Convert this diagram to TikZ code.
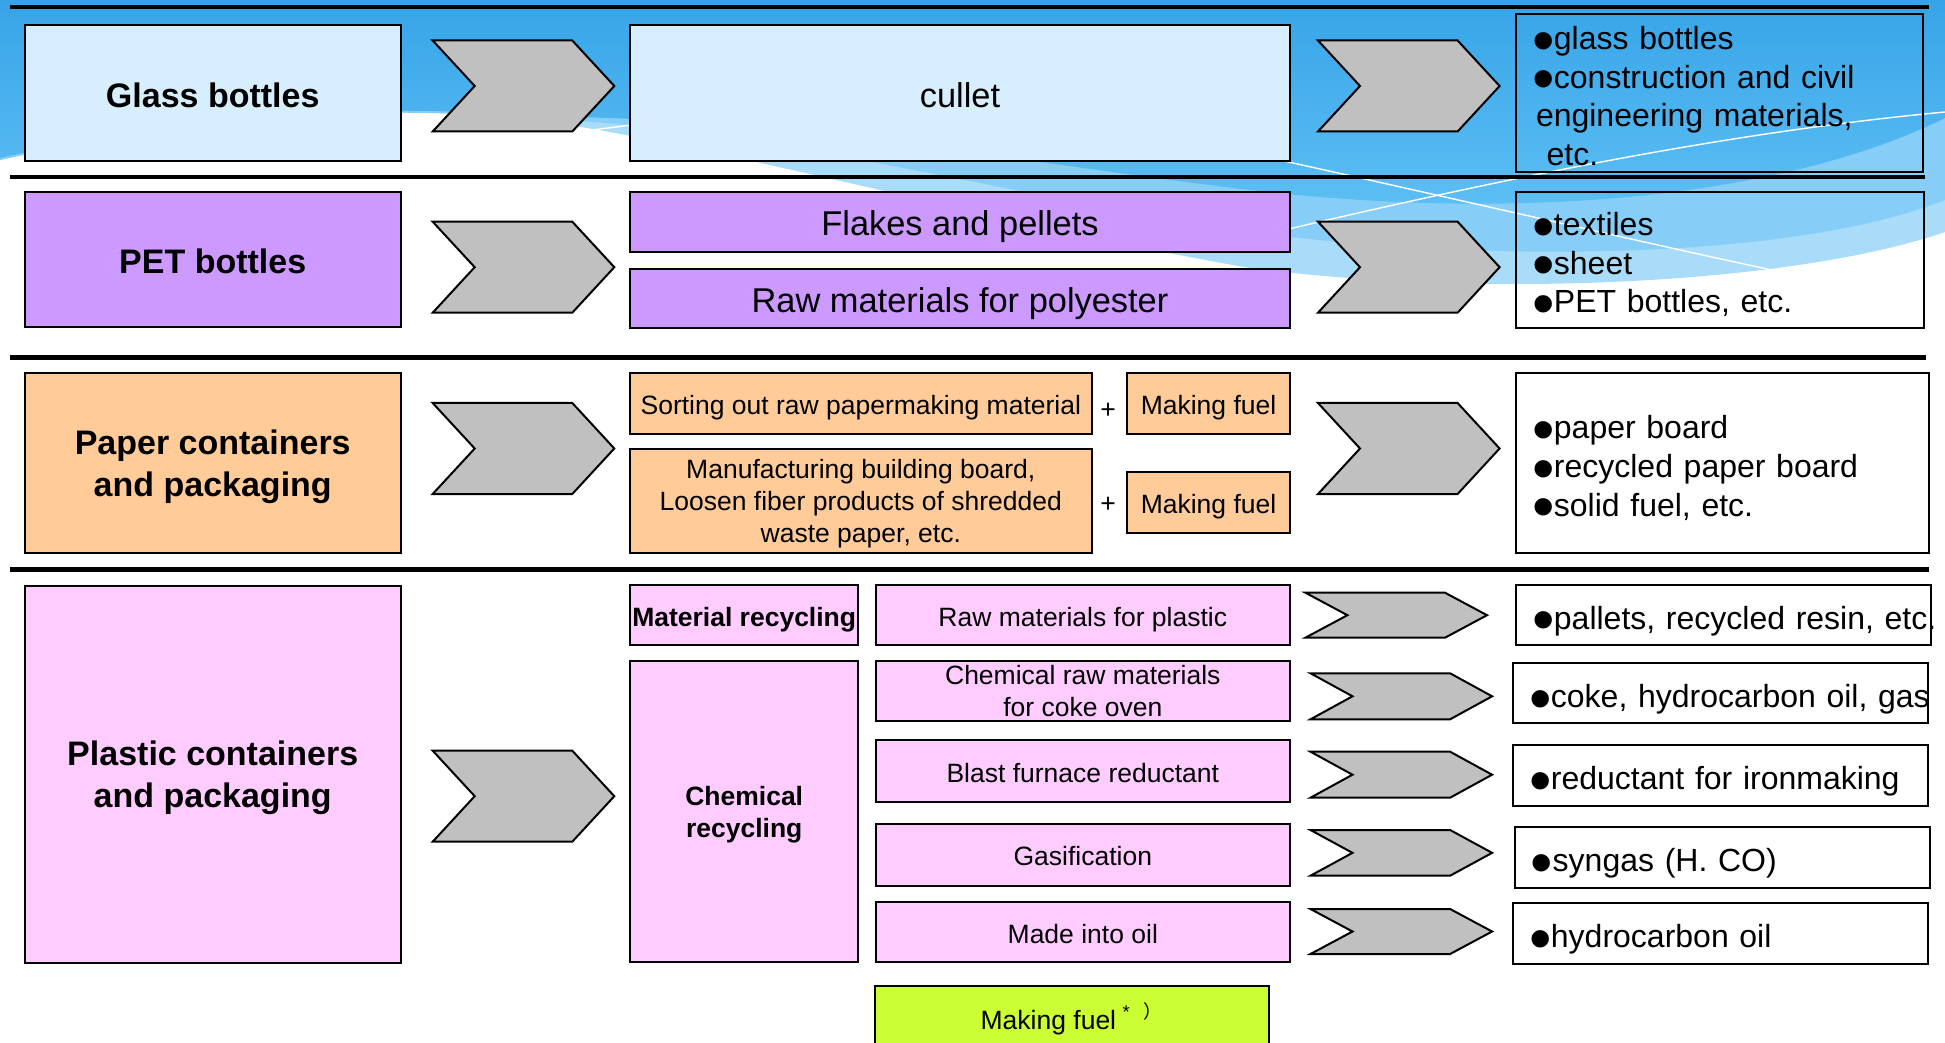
\documentclass[tikz,border=0pt]{standalone}
\usepackage{graphicx}
\usepackage{fontspec}
\setmainfont{Liberation Sans}
\newfontfamily\cjk{Noto Sans CJK JP}
\usetikzlibrary{positioning}

\definecolor{glassblue}{HTML}{D6EEFE}
\definecolor{petpurple}{HTML}{CC99FF}
\definecolor{paperorange}{HTML}{FFCC99}
\definecolor{plasticpink}{HTML}{FFCCFF}
\definecolor{chevgrey}{HTML}{C0C0C0}
\definecolor{fuelgreen}{HTML}{CCFF33}
\definecolor{skydark}{HTML}{37A4E8}
\definecolor{skymid}{HTML}{60C1F4}
\definecolor{skylight}{HTML}{86CEF7}
\definecolor{skypale}{HTML}{A9DCF9}

\newcommand{\bul}{\leavevmode\kern-0.12em\smash{\raisebox{-0.4em}{\scalebox{2}{•}}}\kern-0.02em}
\newcommand{\pptstrut}{\rule[-0.212em]{0pt}{0.905em}}

\tikzset{
  box/.style={draw,line width=1pt,inner sep=0pt,align=center,execute at end node=\pptstrut},
  wh/.style 2 args={minimum width=#1*0.5pt,minimum height=#2*0.5pt},
  big/.style={font=\fontsize{17.2}{20.5}\selectfont,execute at begin node=\rule{0pt}{17.6pt}},
  small/.style={font=\fontsize{13.25}{16}\selectfont,execute at begin node=\rule{0pt}{14pt}},
  smallbf/.style={font=\fontsize{13.25}{16}\selectfont\bfseries,execute at begin node=\rule{0pt}{14pt}},
  lbl/.style={font=\fontsize{17}{21}\selectfont\bfseries,execute at begin node=\rule{0pt}{17.4pt}},
  plus/.style={font=\fontsize{13.25}{16}\selectfont},
  outbox/.style={box,align=left,inner xsep=10pt,font=\fontsize{16}{19.3}\selectfont,
    execute at begin node=\rule{0pt}{17.5pt}},
  chev/.style={draw,line width=1pt,fill=chevgrey,line join=miter},
  sepline/.style={line width=2.2pt},
  streak/.style={draw=white,line width=0.7pt}
}

\begin{document}
\begin{tikzpicture}[x=0.5pt,y=-0.5pt]

\useasboundingbox (0,0) rectangle (1945,1043);
\fill[white] (0,0) rectangle (1945,1043);

% background swooshes
\fill[skypale] (0,0) -- (1945,0) -- (1945,232) .. controls (1800,282) and (1500,300) .. (1250,268)
  .. controls (1000,225) and (700,140) .. (520,118) .. controls (380,105) and (200,115) .. (0,160) -- cycle;
\fill[skylight] (0,0) -- (1945,0) -- (1945,200) .. controls (1800,258) and (1500,265) .. (1250,232)
  .. controls (1000,195) and (760,125) .. (520,118) .. controls (380,105) and (200,115) .. (0,160) -- cycle;
\shade[top color=skydark,bottom color=skymid] (0,0) -- (1945,0) -- (1945,118) .. controls (1800,190) and (1550,225) .. (1250,190)
  .. controls (1000,160) and (800,118) .. (520,116) .. controls (380,103) and (200,113) .. (0,158) -- cycle;
\draw[streak] (1100,121) .. controls (1400,185) and (1650,245) .. (1810,278);
\draw[streak] (1200,250) .. controls (1450,190) and (1700,135) .. (1945,112);
\draw[streak] (585,131) -- (700,116);

\foreach \y/\r in {7.2/1929,177/1925,357.5/1926,569.5/1929}
  \draw[sepline] (10,\y) -- (\r,\y);

% glass
\node[box,fill=glassblue,wh={375.9}{136.5},lbl] (glass) at (212.75,93.25) {Glass bottles};
\node[box,fill=glassblue,wh={660}{136.5},big] (cullet) at (960,93.25) {cullet};
\node[outbox,wh={407}{151.7},text width=183.5pt] (glassout) at (1719.5,93.2)
  {\bul glass bottles\\\bul construction and civil\\engineering materials,\\\ etc.};

% PET
\node[box,fill=petpurple,wh={375.9}{135.2},lbl] (pet) at (212.75,259.9) {PET bottles};
\node[box,fill=petpurple,wh={660}{59.5},big] (flakes) at (960,222) {Flakes and pellets};
\node[box,fill=petpurple,wh={660}{58.3},big] (polyester) at (960,298.4) {Raw materials for polyester};
\node[outbox,wh={408}{136.6},text width=184pt,execute at begin node=\rule{0pt}{16pt}] (petout) at (1720,260)
  {\bul textiles\\\bul sheet\\\bul PET bottles, etc.};

% paper
\node[box,fill=paperorange,wh={375.9}{179.8},lbl,text depth=-1.4pt] (paper) at (212.75,463.3) {Paper containers\\and packaging};
\node[box,fill=paperorange,wh={461.6}{60.6},small] (sorting) at (860.8,403.7) {Sorting out raw papermaking material};
\node[box,fill=paperorange,wh={163}{60.6},small] (fuela) at (1208.5,403.7) {Making fuel};
\node[box,fill=paperorange,wh={461.6}{104.5},small,text depth=-2.2pt] (board) at (860.8,501.2)
  {Manufacturing building board,\\Loosen fiber products of shredded\\waste paper, etc.};
\node[box,fill=paperorange,wh={163}{61},small] (fuelb) at (1208.5,502.5) {Making fuel};
\node[plus] (plusa) at (1108,410.5) {+};
\node[plus] (plusb) at (1108,504.5) {+};
\node[outbox,wh={413}{179.8},text width=186.5pt] (paperout) at (1722.5,463.3)
  {\bul paper board\\\bul recycled paper board\\\bul solid fuel, etc.};

% plastic
\node[box,fill=plasticpink,wh={375.9}{377},lbl,text depth=-1.4pt] (plastic) at (212.75,774) {Plastic containers\\and packaging};
\node[box,fill=plasticpink,wh={228.4}{59.5},smallbf] (material) at (744.2,615.2) {Material recycling};
\node[box,fill=plasticpink,wh={228.4}{301.5},smallbf,text depth=-2.2pt] (chemical) at (744.2,811.7) {Chemical\\recycling};
\node[box,fill=plasticpink,wh={414.3}{59.7},small,text depth=-1pt] (cokeoven) at (1082.8,690.8)
  {Chemical raw materials\\for coke oven};
\foreach \n/\y/\h/\t in {rawplastic/615.2/59.5/{Raw materials for plastic},
    blast/771.2/62.5/{Blast furnace reductant},
    gasif/854.8/62.4/{Gasification},
    oil/932/60.7/{Made into oil}}
  \node[box,fill=plasticpink,wh={414.3}{\h},small] (\n) at (1082.8,\y) {\t};
\foreach \n/\x/\y/\h/\t in {palletsout/1723.5/615/60/{pallets, recycled resin, etc.},
    cokeout/1720.5/693.3/60/{coke, hydrocarbon oil, gas},
    ironout/1720.5/775.5/61/{reductant for ironmaking},
    syngasout/1722.3/857.8/61/{syngas (H. CO)},
    oilout/1720.5/933.8/61/{hydrocarbon oil}}
  \node[outbox,wh={415}{\h},text width=187.5pt] (\n) at (\x,\y) {\mbox{\bul \t}};
\node[box,fill=fuelgreen,wh={394}{64},small,execute at begin node=\rule{0pt}{13pt}] (fuelc) at (1072,1018)
  {Making fuel\textsuperscript{\hspace{0.35em}*\hspace{0.75em}{\cjk ）}}};

% chevrons
\foreach \x/\y/\h in {432.7/40.5/91,432.7/221.7/91,432.7/403/91,432.7/750.7/91,
    1318/40.5/91,1318/221.7/91,1318/403/91,
    1305.4/592.7/45,1310.5/673.3/46,1310.5/751.7/46,1310.5/830/45.7,1310.5/909/45}
  \draw[chev] (\x,\y) -- ++(139.6,0) -- ++(42,\h/2) -- ++(-42,\h/2) -- ++(-139.6,0) -- ++(42,-\h/2) -- cycle;

\end{tikzpicture}
\end{document}
